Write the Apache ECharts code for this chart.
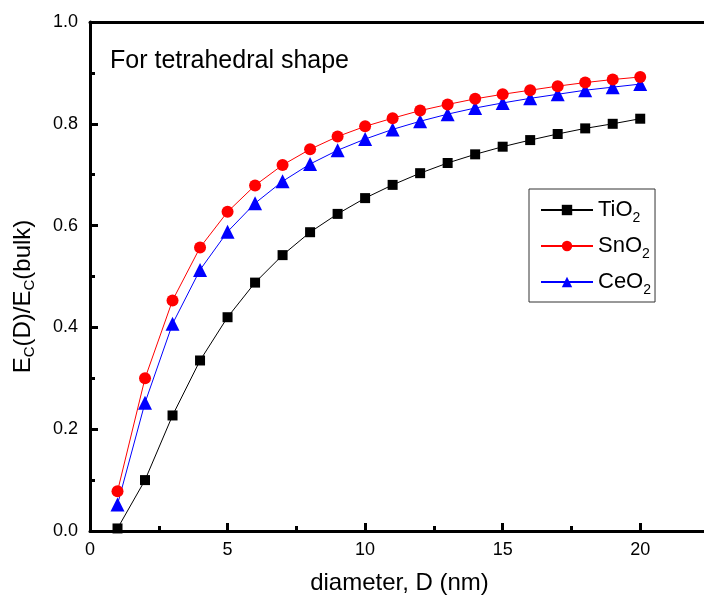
<!DOCTYPE html>
<html>
<head>
<meta charset="utf-8">
<script src="https://cdn.jsdelivr.net/npm/echarts@6/dist/echarts.min.js"></script>
<style>
html,body{margin:0;padding:0;background:#fff;}
#chart{width:704px;height:599px;}
</style>
</head>
<body>
<div id="chart"></div>
<script>
// diameter D (nm)
let diameters = [1,2,3,4,5,6,7,8,9,10,11,12,13,14,15,16,17,18,19,20];
let tio2 = [0.005,0.100,0.227,0.335,0.420,0.488,0.542,0.587,0.623,0.654,0.680,0.703,0.723,0.740,0.755,0.768,0.780,0.791,0.800,0.810];
let sno2 = [0.078,0.300,0.453,0.557,0.627,0.679,0.719,0.750,0.775,0.795,0.811,0.826,0.838,0.849,0.858,0.866,0.874,0.881,0.887,0.892];
let ceo2 = [0.052,0.252,0.407,0.513,0.588,0.644,0.687,0.721,0.748,0.770,0.789,0.805,0.819,0.831,0.841,0.850,0.858,0.866,0.872,0.878];
let seriesNames = ['TiO2','SnO2','CeO2'];
let seriesColors = ['#000000','#ff0000','#0000ff'];
let seriesSymbols = ['rect','circle','triangle'];
let symbolSizes = [10,12,14];

function pairs(vals){
	let out = [];
	for(i in diameters){
		out.push([diameters[i], vals[i]]);
	}
	return out;
}

let allVals = [tio2, sno2, ceo2];
let series = [];
for(let k=0;k<3;k++){
	series.push({
		name: seriesNames[k],
		type: 'line',
		xAxisIndex: 0,
		data: pairs(allVals[k]),
		symbol: seriesSymbols[k],
		symbolSize: symbolSizes[k],
		showAllSymbol: true,
		lineStyle: { color: seriesColors[k], width: 1 },
		itemStyle: { color: seriesColors[k] },
		z: 3 - k
	});
}

let fontFam = 'Arial, "Liberation Sans", sans-serif';
var chart = echarts.init(document.getElementById('chart'));
option = {
	animation: false,
	textStyle: { fontFamily: fontFam },
	grid: { left: 90, top: 22, right: -5, bottom: 68, containLabel: false, outerBoundsMode: 'none' },
	graphic: [{
		type: 'text',
		left: 110,
		top: 49,
		style: { text: 'For tetrahedral shape', font: '25px ' + fontFam, fill: '#000' }
	}],
	legend: {
		orient: 'vertical',
		left: 529,
		top: 189,
		itemWidth: 52,
		itemHeight: 13,
		itemGap: 10,
		padding: [10, 4, 5, 11],
		borderColor: '#333',
		borderWidth: 1,
		data: seriesNames,
		formatter: function(name){
			return '{a|' + name.slice(0, -1) + '}{s|2}';
		},
		textStyle: {
			fontFamily: fontFam,
			rich: {
				a: { fontSize: 22, color: '#000', fontFamily: fontFam },
				s: { fontSize: 14, color: '#000', fontFamily: fontFam, padding: [16, 0, 0, 0] }
			}
		}
	},
	xAxis: [{
		type: 'value',
		min: 0,
		max: 22.5,
		interval: 5,
		name: 'diameter, D (nm)',
		nameLocation: 'middle',
		nameGap: 40,
		nameTextStyle: { fontSize: 24, color: '#000', fontFamily: fontFam },
		axisLine: { lineStyle: { color: '#000', width: 3 } },
		axisTick: { inside: true, length: 8, lineStyle: { color: '#000', width: 3 } },
		minorTick: { show: true, splitNumber: 2, length: 5, lineStyle: { color: '#000', width: 3 } },
		axisLabel: { fontSize: 18, color: '#000', margin: 10, fontFamily: fontFam,
			formatter: function(v){ return v > 20 ? '' : v; } },
		splitLine: { show: false }
	}, {
		type: 'value',
		position: 'top',
		min: 0,
		max: 22.5,
		axisLine: { lineStyle: { color: '#000', width: 3 } },
		axisTick: { show: false },
		axisLabel: { show: false },
		splitLine: { show: false }
	}],
	yAxis: {
		type: 'value',
		min: 0,
		max: 1,
		interval: 0.2,
		name: '{a|E}{s|C}{a|(D)/E}{s|C}{a|(bulk)}',
		nameLocation: 'middle',
		nameGap: 53,
		nameRotate: 90,
		nameTextStyle: {
			padding: [0, 40, 0, 0],
			rich: {
				a: { fontSize: 24, color: '#000', fontFamily: fontFam },
				s: { fontSize: 15, color: '#000', fontFamily: fontFam, padding: [12, 0, 0, 0] }
			}
		},
		axisLine: { show: true, lineStyle: { color: '#000', width: 3 } },
		axisTick: { show: true, inside: true, length: 8, lineStyle: { color: '#000', width: 3 } },
		minorTick: { show: true, splitNumber: 2, length: 5, lineStyle: { color: '#000', width: 3 } },
		axisLabel: { fontSize: 18, color: '#000', margin: 12, fontFamily: fontFam,
			formatter: function(v){ return v.toFixed(1); } },
		splitLine: { show: false }
	},
	series: series
};
chart.setOption(option);
</script>
</body>
</html>
